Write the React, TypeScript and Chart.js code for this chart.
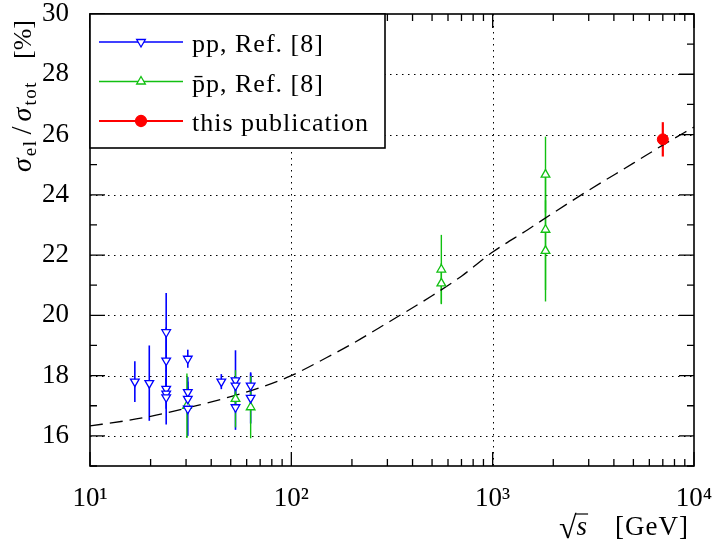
import { useEffect, useRef } from 'react';
import { Chart, registerables } from 'chart.js';

Chart.register(...registerables);

const FONT = '"Liberation Serif", "Times New Roman", serif';

// pp, Ref. [8]
const ppX = [16.7, 19.7, 23.9, 23.9, 23.9, 23.9, 23.9, 30.6, 30.6, 30.6, 30.6, 44.9, 52.8, 52.8, 52.8, 62.8, 62.8];
const ppY = [17.8, 17.75, 19.44, 18.5, 17.56, 17.4, 17.28, 18.56, 17.45, 17.23, 16.9, 17.8, 17.84, 17.67, 16.95, 17.67, 17.26];
const ppErr = [0.68, 1.25, 1.3, 1.1, 0.35, 0.5, 0.9, 0.3, 0.5, 0.4, 0.9, 0.25, 1.0, 0.3, 0.75, 0.4, 0.85];

// p̄p, Ref. [8]
const pbarpX = [30.3, 52.8, 62.8, 556, 556, 1830, 1830, 1830];
const pbarpY = [17.0, 17.23, 16.95, 21.52, 21.06, 24.67, 22.84, 22.14];
const pbarpErr = [1.07, 0.95, 1.03, 1.15, 0.67, 1.26, 2.0, 1.68];

// this publication
const thisX = [7000];
const thisY = [25.84];
const thisErr = [0.57];

// dashed model curve
const curveX = [10, 15, 20, 30, 50, 70, 100, 150, 200, 300, 500, 700, 1000, 1500, 2000, 3000, 5000, 7000, 10000];
const curveY = [16.33, 16.5, 16.65, 16.92, 17.3, 17.6, 18.0, 18.6, 19.05, 19.75, 20.65, 21.3, 22.1, 22.85, 23.4, 24.15, 25.05, 25.65, 26.25];

const xDecades = [10, 100, 1000];
const xMax = 10000;
const yTicks = [16, 18, 20, 22, 24, 26, 28, 30];
const yMin = 15;
const yMax = 30;

const SUP: Record<number, string> = { 1: '\u00b9', 2: '\u00b2', 3: '\u00b3', 4: '\u2074' };

const BLUE = '#0000ff';
const GREEN = '#11c011';
const RED = '#ff0000';

function drawMarker(ctx: CanvasRenderingContext2D, style: string, x: number, y: number, r: number, color: string, fill: string) {
  ctx.save();
  ctx.strokeStyle = color;
  ctx.fillStyle = fill;
  ctx.lineWidth = 1.3;
  ctx.beginPath();
  if (style === 'circle') {
    ctx.arc(x, y, r, 0, Math.PI * 2);
  } else {
    const rot = style === 'down' ? Math.PI : 0;
    for (let k = 0; k < 3; k++) {
      const a = rot + (k * 2 * Math.PI) / 3;
      const px = x + Math.sin(a) * r;
      const py = y - Math.cos(a) * r;
      if (k === 0) ctx.moveTo(px, py);
      else ctx.lineTo(px, py);
    }
    ctx.closePath();
  }
  ctx.fill();
  ctx.stroke();
  ctx.restore();
}

export default function App() {
  const ref = useRef<HTMLCanvasElement>(null);

  useEffect(() => {
    const canvas = ref.current;
    if (!canvas) return;

    const errs: Record<number, { err: number[]; color: string; width: number }> = {
      0: { err: ppErr, color: BLUE, width: 1.6 },
      1: { err: pbarpErr, color: GREEN, width: 1.4 },
      2: { err: thisErr, color: RED, width: 2.2 },
    };

    const decor = {
      id: 'decor',
      beforeDatasetsDraw(chart: any) {
        const { ctx, chartArea: a, scales } = chart;
        const xs = scales.x;
        const ys = scales.y;
        ctx.save();
        // dotted grid
        ctx.strokeStyle = '#000';
        ctx.lineWidth = 1;
        ctx.setLineDash([1.5, 4.5]);
        yTicks.forEach((v) => {
          if (v >= yMax) return;
          const py = Math.round(ys.getPixelForValue(v)) + 0.5;
          ctx.beginPath();
          ctx.moveTo(a.left, py);
          ctx.lineTo(a.right, py);
          ctx.stroke();
        });
        xDecades.forEach((v) => {
          if (v <= xDecades[0]) return;
          const px = Math.round(xs.getPixelForValue(v)) + 0.5;
          ctx.beginPath();
          ctx.moveTo(px, a.top);
          ctx.lineTo(px, a.bottom);
          ctx.stroke();
        });
        ctx.setLineDash([]);
        // error bars
        ctx.beginPath();
        ctx.rect(a.left, a.top, a.right - a.left, a.bottom - a.top);
        ctx.clip();
        Object.keys(errs).forEach((k) => {
          const i = Number(k);
          const info = errs[i];
          const ds = chart.data.datasets[i];
          ctx.strokeStyle = info.color;
          ctx.lineWidth = info.width;
          ds.data.forEach((p: any, j: number) => {
            const px = xs.getPixelForValue(p.x);
            const y1 = ys.getPixelForValue(p.y + info.err[j]);
            const y2 = ys.getPixelForValue(p.y - info.err[j]);
            ctx.beginPath();
            ctx.moveTo(px, y1);
            ctx.lineTo(px, y2);
            ctx.stroke();
          });
        });
        ctx.restore();
      },
      afterDraw(chart: any) {
        const { ctx, chartArea: a, scales } = chart;
        const xs = scales.x;
        const ys = scales.y;
        ctx.save();
        // frame
        ctx.strokeStyle = '#000';
        ctx.lineWidth = 1.6;
        ctx.strokeRect(a.left, a.top, a.right - a.left, a.bottom - a.top);
        // y ticks (major + minor), mirrored
        ctx.lineWidth = 1.3;
        for (let v = yMin; v <= yMax; v += 1) {
          const major = yTicks.includes(v);
          const len = major ? 15 : 7;
          const py = ys.getPixelForValue(v);
          ctx.beginPath();
          ctx.moveTo(a.left, py);
          ctx.lineTo(a.left + len, py);
          ctx.moveTo(a.right, py);
          ctx.lineTo(a.right - len, py);
          ctx.stroke();
        }
        // x ticks
        xs.ticks.forEach((t: any) => {
          const lg = Math.log10(t.value);
          const major = Math.abs(lg - Math.round(lg)) < 1e-6;
          const len = major ? 14 : 7;
          const px = xs.getPixelForValue(t.value);
          ctx.beginPath();
          ctx.moveTo(px, a.bottom);
          ctx.lineTo(px, a.bottom - len);
          ctx.moveTo(px, a.top);
          ctx.lineTo(px, a.top + len);
          ctx.stroke();
        });

        // legend
        const lx = a.left;
        const ly = a.top;
        const lw = 295;
        const lh = 134;
        ctx.fillStyle = '#fff';
        ctx.fillRect(lx, ly, lw, lh);
        ctx.lineWidth = 1.6;
        ctx.strokeStyle = '#000';
        ctx.strokeRect(lx, ly, lw, lh);
        const styles = ['down', 'up', 'circle'];
        const colors = [BLUE, GREEN, RED];
        chart.data.datasets.slice(0, 3).forEach((ds: any, i: number) => {
          const cy = ly + 28 + i * 39.5;
          ctx.strokeStyle = colors[i];
          ctx.lineWidth = i === 2 ? 2 : 1.3;
          ctx.beginPath();
          ctx.moveTo(lx + 9, cy);
          ctx.lineTo(lx + 93, cy);
          ctx.stroke();
          drawMarker(ctx, styles[i], lx + 51, cy, i === 2 ? 5.5 : 5, colors[i], i === 2 ? RED : '#fff');
          ctx.fillStyle = '#000';
          ctx.font = `26px ${FONT}`;
          (ctx as any).letterSpacing = '1px';
          ctx.textAlign = 'left';
          ctx.textBaseline = 'alphabetic';
          ctx.fillText(ds.label, lx + 102, cy + 10);
        });
        (ctx as any).letterSpacing = '0px';

        // y-axis title (rotated)
        ctx.save();
        ctx.translate(31, 172);
        ctx.rotate(-Math.PI / 2);
        ctx.fillStyle = '#000';
        ctx.textBaseline = 'alphabetic';
        ctx.textAlign = 'left';
        let cx = 0;
        const big = `italic 28px ${FONT}`;
        const small = `19px ${FONT}`;
        const parts: [string, string, number, number][] = [
          ['\u03c3', big, 0, 2],
          ['el', small, 5, 5],
          ['/', `29px ${FONT}`, 0, 5],
          ['\u03c3', big, 0, 2],
          ['tot', small, 5, 0],
        ];
        parts.forEach(([s, f, dy, gap]) => {
          ctx.font = f;
          (ctx as any).letterSpacing = f === small ? '1.5px' : '0px';
          ctx.fillText(s, cx, dy);
          cx += ctx.measureText(s).width + gap;
        });
        (ctx as any).letterSpacing = '0px';
        ctx.font = `26px ${FONT}`;
        ctx.textAlign = 'right';
        ctx.fillText('[%]', 152, 0);
        ctx.restore();

        // x-axis title
        ctx.fillStyle = '#000';
        ctx.textBaseline = 'alphabetic';
        ctx.font = `27px ${FONT}`;
        (ctx as any).letterSpacing = '1px';
        ctx.textAlign = 'right';
        ctx.fillText('[GeV]', 689, 535);
        (ctx as any).letterSpacing = '0px';
        ctx.textAlign = 'left';
        const sx = 559;
        ctx.font = `32px ${FONT}`;
        ctx.fillText('\u221a', sx, 538);
        const rw = ctx.measureText('\u221a').width;
        ctx.font = `italic 27px ${FONT}`;
        ctx.fillText('s', sx + rw, 535);
        const sw = ctx.measureText('s').width;
        ctx.strokeStyle = '#000';
        ctx.lineWidth = 1.2;
        ctx.beginPath();
        ctx.moveTo(sx + rw - 1.5, 514);
        ctx.lineTo(sx + rw + sw + 1, 514);
        ctx.stroke();
        ctx.restore();
      },
    };

    const chart = new Chart(canvas, {
      type: 'scatter',
      data: {
        datasets: [
          {
            label: 'pp, Ref. [8]',
            data: ppX.map((x, i) => ({ x, y: ppY[i] })),
            pointStyle: 'triangle',
            rotation: 180,
            radius: 5,
            borderColor: BLUE,
            backgroundColor: '#fff',
            borderWidth: 1.3,
            showLine: false,
          },
          {
            label: 'p\u0304p, Ref. [8]',
            data: pbarpX.map((x, i) => ({ x, y: pbarpY[i] })),
            pointStyle: 'triangle',
            radius: 5,
            borderColor: GREEN,
            backgroundColor: '#fff',
            borderWidth: 1.3,
            showLine: false,
          },
          {
            label: 'this publication',
            data: thisX.map((x, i) => ({ x, y: thisY[i] })),
            pointStyle: 'circle',
            radius: 5.5,
            borderColor: RED,
            backgroundColor: RED,
            borderWidth: 1,
            showLine: false,
          },
          {
            label: 'model',
            data: curveX.map((x, i) => ({ x, y: curveY[i] })),
            showLine: true,
            pointRadius: 0,
            borderColor: '#000',
            borderWidth: 1.3,
            borderDash: [13, 7],
            cubicInterpolationMode: 'monotone',
            fill: false,
          },
        ],
      } as any,
      options: {
        animation: false,
        responsive: false,
        layout: { padding: { left: 0, right: 19, top: 14, bottom: 0 } },
        plugins: {
          legend: { display: false },
          tooltip: { enabled: false },
        },
        scales: {
          x: {
            type: 'logarithmic',
            min: xDecades[0],
            max: xMax,
            grid: { display: false },
            border: { display: false },
            afterBuildTicks: (s: any) => {
              const t: { value: number }[] = [];
              xDecades.forEach((d) => {
                for (let m = 1; m <= 9; m++) t.push({ value: d * m });
              });
              t.push({ value: xMax });
              s.ticks = t;
            },
            afterFit: (s: any) => {
              s.height = 77;
              s.paddingLeft = 0;
              s.paddingRight = 0;
            },
            ticks: {
              autoSkip: false,
              maxRotation: 0,
              minRotation: 0,
              color: '#000',
              padding: 9,
              font: { family: FONT, size: 27 },
              callback: (v: any) => {
                const lg = Math.log10(Number(v));
                const r = Math.round(lg);
                return Math.abs(lg - r) < 1e-6 ? '10' + SUP[r] : '';
              },
            },
          },
          y: {
            type: 'linear',
            min: yMin,
            max: yMax,
            grid: { display: false },
            border: { display: false },
            afterBuildTicks: (s: any) => {
              s.ticks = yTicks.map((v) => ({ value: v }));
            },
            afterFit: (s: any) => {
              s.width = 90;
              s.paddingTop = 0;
              s.paddingBottom = 0;
            },
            ticks: {
              color: '#000',
              padding: 13,
              font: { family: FONT, size: 27 },
            },
          },
        },
      } as any,
      plugins: [decor],
    });

    return () => chart.destroy();
  }, []);

  return (
    <div style={{ position: 'absolute', left: 0, top: 0, width: 713, height: 543, background: '#fff' }}>
      <canvas ref={ref} width={713} height={543} style={{ display: 'block' }} />
    </div>
  );
}
